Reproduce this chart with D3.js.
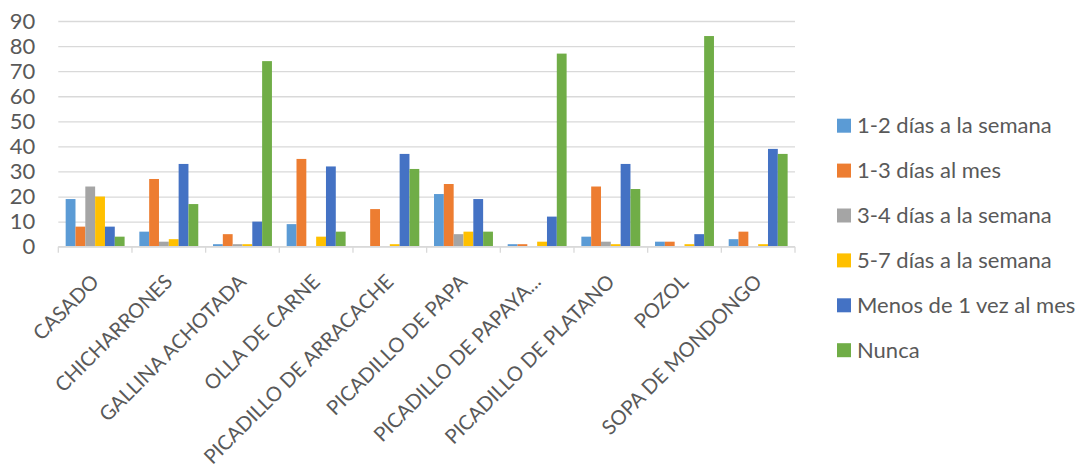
<!DOCTYPE html>
<html>
<head>
<meta charset="utf-8">
<script src="https://cdn.jsdelivr.net/npm/d3@7"></script>
<style>
  html, body { margin: 0; padding: 0; background: #fff; }
  svg { display: block; font-family: Lato, "Liberation Sans", sans-serif; }
</style>
</head>
<body>
<svg id="chart" width="1083" height="468"></svg>
<script>
const categories = ["CASADO", "CHICHARRONES", "GALLINA ACHOTADA", "OLLA DE CARNE",
  "PICADILLO DE ARRACACHE", "PICADILLO DE PAPA", "PICADILLO DE PAPAYA...",
  "PICADILLO DE PLATANO", "POZOL", "SOPA DE MONDONGO"];
const seriesNames = ["1-2 días a la semana", "1-3 días al mes", "3-4 días a la semana",
  "5-7 días a la semana", "Menos de 1 vez al mes", "Nunca"];
const s12semana = [19, 6, 1, 9, 0, 21, 1, 4, 2, 3];
const s13mes    = [8, 27, 5, 35, 15, 25, 1, 24, 2, 6];
const s34semana = [24, 2, 1, 0, 0, 5, 0, 2, 0, 0];
const s57semana = [20, 3, 1, 4, 1, 6, 2, 1, 1, 1];
const sMenos1   = [8, 33, 10, 32, 37, 19, 12, 33, 5, 39];
const sNunca    = [4, 17, 74, 6, 31, 6, 77, 23, 84, 37];
const yTicks = [0, 10, 20, 30, 40, 50, 60, 70, 80, 90];
const colors = ["#5B9BD5", "#ED7D31", "#A5A5A5", "#FFC000", "#4472C4", "#70AD47"];

const seriesValues = [s12semana, s13mes, s34semana, s57semana, sMenos1, sNunca];

const svg = d3.select("#chart");
const plotLeft = 58.3, plotRight = 795, plotTop = 21, plotBottom = 246.7;
const textColor = "#595959";
const gridColor = "#d9d9d9";
const fs = "22px";

const x0 = d3.scaleBand().domain(categories).range([plotLeft, plotRight]).paddingInner(0).paddingOuter(0);
const bw = x0.bandwidth();
const x1 = d3.scaleBand().domain(d3.range(seriesNames.length)).range([bw * 0.1, bw * 0.9]).padding(0);
const y = d3.scaleLinear().domain([0, 90]).range([plotBottom, plotTop]);

// Y axis with gridlines
const yAxis = d3.axisLeft(y).tickValues(yTicks).tickSize(-(plotRight - plotLeft)).tickPadding(23);
const gy = svg.append("g").attr("transform", `translate(${plotLeft},0)`).call(yAxis);
gy.select(".domain").remove();
gy.selectAll(".tick line").attr("stroke", gridColor).attr("stroke-width", 1.3);
gy.selectAll(".tick text").attr("fill", textColor).style("font-size", fs)
  .style("font-family", "Lato, 'Liberation Sans', sans-serif");

// Bars
const groups = svg.append("g").selectAll("g")
  .data(categories).join("g")
  .attr("transform", d => `translate(${x0(d)},0)`);
groups.selectAll("rect")
  .data((c, ci) => seriesValues.map((vals, si) => ({ si, v: vals[ci] })))
  .join("rect")
  .attr("x", d => x1(d.si))
  .attr("width", x1.bandwidth())
  .attr("y", d => y(d.v))
  .attr("height", d => y(0) - y(d.v))
  .attr("fill", d => colors[d.si]);

// X axis line and boundary ticks
const xa = svg.append("g");
xa.append("line").attr("x1", plotLeft).attr("x2", plotRight)
  .attr("y1", plotBottom).attr("y2", plotBottom)
  .attr("stroke", gridColor).attr("stroke-width", 1.3);
const bounds = categories.map(c => x0(c)).concat([x0(categories[categories.length - 1]) + bw]);
xa.selectAll("line.tk").data(bounds).join("line").attr("class", "tk")
  .attr("x1", d => d).attr("x2", d => d)
  .attr("y1", plotBottom).attr("y2", plotBottom + 6)
  .attr("stroke", gridColor).attr("stroke-width", 1.3);

// X labels rotated; size chosen so the longest label spans like the reference
const xLabels = xa.selectAll("text").data(categories).join("text")
  .attr("transform", d => `translate(${x0(d) + bw / 2 + 5},283) rotate(-45)`)
  .attr("text-anchor", "end")
  .attr("fill", textColor)
  .style("font-size", fs)
  .text(d => d);
const probe = xLabels.filter(d => d === "PICADILLO DE ARRACACHE").node();
const len = probe.getComputedTextLength();
const xfs = Math.min(22, 22 * 258 / len);
xLabels.style("font-size", xfs + "px");

// Legend
const lg = svg.append("g").selectAll("g").data(seriesNames).join("g")
  .attr("transform", (d, i) => `translate(837,${125.7 + i * 44.9})`);
lg.append("rect").attr("x", 0).attr("y", -7).attr("width", 14).attr("height", 14)
  .attr("fill", (d, i) => colors[i]);
lg.append("text").attr("x", 20).attr("y", 0).attr("dy", "0.35em")
  .attr("fill", textColor).style("font-size", fs).text(d => d);
</script>
</body>
</html>
